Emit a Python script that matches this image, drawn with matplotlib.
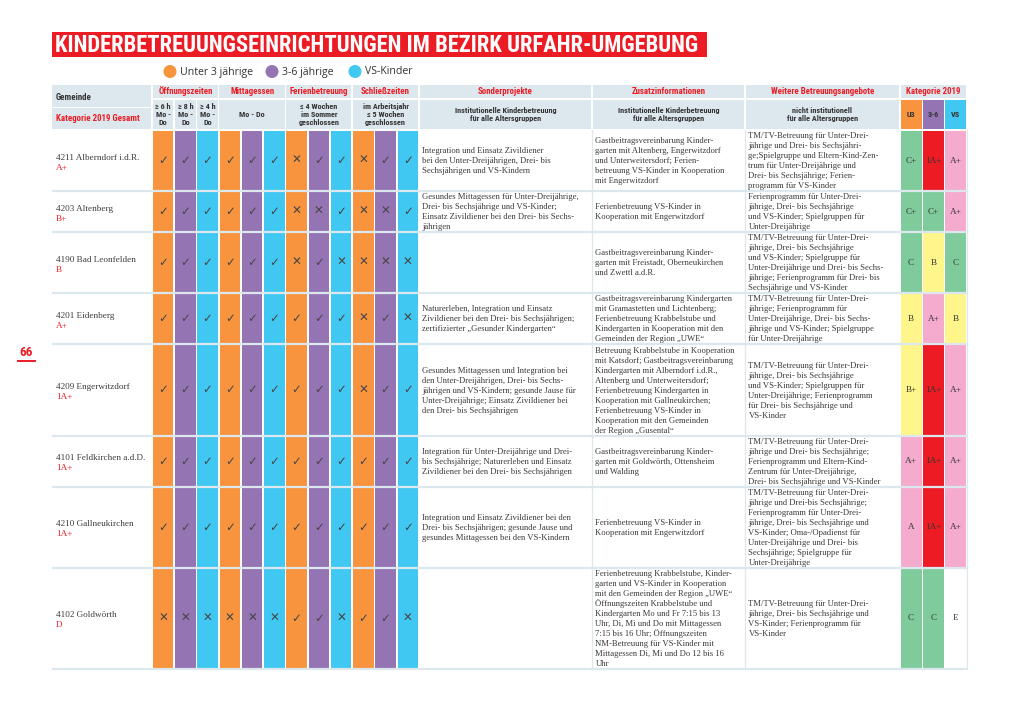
import matplotlib
matplotlib.use('Agg')
import matplotlib.pyplot as plt
from matplotlib.patches import Rectangle, Circle
from matplotlib import font_manager

# Daten
gemeinden = ['4211 Alberndorf i.d.R.', '4203 Altenberg', '4190 Bad Leonfelden', '4201 Eidenberg',
             '4209 Engerwitzdorf', '4101 Feldkirchen a.d.D.', '4210 Gallneukirchen', '4102 Goldwörth']
gesamt = ['A+', 'B+', 'B', 'A+', '1A+', '1A+', '1A+', 'D']

# je 12 Felder: Öffnungszeiten (3), Mittagessen (3), Ferienbetreuung (3), Schließzeiten (3); v = ja, x = nein
angebot = ['vvvvvvxvvxvv',
           'vvvvvvxxvxxv',
           'vvvvvvxvxxxx',
           'vvvvvvvvvxvx',
           'vvvvvvvvvxvv',
           'vvvvvvvvvvvv',
           'vvvvvvvvvvvv',
           'xxxxxxvvxvvx']

kat_u3 = ['C+', 'C+', 'C', 'B', 'B+', 'A+', 'A', 'C']
kat_36 = ['1A+', 'C+', 'B', 'A+', '1A+', '1A+', '1A+', 'C']
kat_vs = ['A+', 'A+', 'C', 'B', 'A+', 'A+', 'A+', 'E']

sonderprojekte = [
    'Integration und Einsatz Zivildiener\nbei den Unter-Dreijährigen, Drei- bis\nSechsjährigen und VS-Kindern',
    'Gesundes Mittagessen für Unter-Dreijährige,\nDrei- bis Sechsjährige und VS-Kinder;\nEinsatz Zivildiener bei den Drei- bis Sechs-\njährigen',
    '',
    'Naturerleben, Integration und Einsatz\nZivildiener bei den Drei- bis Sechsjährigen;\nzertifizierter „Gesunder Kindergarten“',
    'Gesundes Mittagessen und Integration bei\nden Unter-Dreijährigen, Drei- bis Sechs-\njährigen und VS-Kindern; gesunde Jause für\nUnter-Dreijährige; Einsatz Zivildiener bei\nden Drei- bis Sechsjährigen',
    'Integration für Unter-Dreijährige und Drei-\nbis Sechsjährige; Naturerleben und Einsatz\nZivildiener bei den Drei- bis Sechsjährigen',
    'Integration und Einsatz Zivildiener bei den\nDrei- bis Sechsjährigen; gesunde Jause und\ngesundes Mittagessen bei den VS-Kindern',
    '',
]

zusatz = [
    'Gastbeitragsvereinbarung Kinder-\ngarten mit Altenberg, Engerwitzdorf\nund Unterweitersdorf; Ferien-\nbetreuung VS-Kinder in Kooperation\nmit Engerwitzdorf',
    'Ferienbetreuung VS-Kinder in\nKooperation mit Engerwitzdorf',
    'Gastbeitragsvereinbarung Kinder-\ngarten mit Freistadt, Oberneukirchen\nund Zwettl a.d.R.',
    'Gastbeitragsvereinbarung Kindergarten\nmit Gramastetten und Lichtenberg;\nFerienbetreuung Krabbelstube und\nKindergarten in Kooperation mit den\nGemeinden der Region „UWE“',
    'Betreuung Krabbelstube in Kooperation\nmit Katsdorf; Gastbeitragsvereinbarung\nKindergarten mit Alberndorf i.d.R.,\nAltenberg und Unterweitersdorf;\nFerienbetreuung Kindergarten in\nKooperation mit Gallneukirchen;\nFerienbetreuung VS-Kinder in\nKooperation mit den Gemeinden\nder Region „Gusental“',
    'Gastbeitragsvereinbarung Kinder-\ngarten mit Goldwörth, Ottensheim\nund Walding',
    'Ferienbetreuung VS-Kinder in\nKooperation mit Engerwitzdorf',
    'Ferienbetreuung Krabbelstube, Kinder-\ngarten und VS-Kinder in Kooperation\nmit den Gemeinden der Region „UWE“\nÖffnungszeiten Krabbelstube und\nKindergarten Mo und Fr 7:15 bis 13\nUhr, Di, Mi und Do mit Mittagessen\n7:15 bis 16 Uhr; Öffnungszeiten\nNM-Betreuung für VS-Kinder mit\nMittagessen Di, Mi und Do 12 bis 16\nUhr',
]

weitere = [
    'TM/TV-Betreuung für Unter-Drei-\njährige und Drei- bis Sechsjähri-\nge;Spielgruppe und Eltern-Kind-Zen-\ntrum für Unter-Dreijährige und\nDrei- bis Sechsjährige; Ferien-\nprogramm für VS-Kinder',
    'Ferienprogramm für Unter-Drei-\njährige, Drei- bis Sechsjährige\nund VS-Kinder; Spielgruppen für\nUnter-Dreijährige',
    'TM/TV-Betreuung für Unter-Drei-\njährige, Drei- bis Sechsjährige\nund VS-Kinder; Spielgruppe für\nUnter-Dreijährige und Drei- bis Sechs-\njährige; Ferienprogramm für Drei- bis\nSechsjährige und VS-Kinder',
    'TM/TV-Betreuung für Unter-Drei-\njährige; Ferienprogramm für\nUnter-Dreijährige, Drei- bis Sechs-\njährige und VS-Kinder; Spielgruppe\nfür Unter-Dreijährige',
    'TM/TV-Betreuung für Unter-Drei-\njährige, Drei- bis Sechsjährige\nund VS-Kinder; Spielgruppen für\nUnter-Dreijährige; Ferienprogramm\nfür Drei- bis Sechsjährige und\nVS-Kinder',
    'TM/TV-Betreuung für Unter-Drei-\njährige und Drei- bis Sechsjährige;\nFerienprogramm und Eltern-Kind-\nZentrum für Unter-Dreijährige,\nDrei- bis Sechsjährige und VS-Kinder',
    'TM/TV-Betreuung für Unter-Drei-\njährige und Drei-bis Sechsjährige;\nFerienprogramm für Unter-Drei-\njährige, Drei- bis Sechsjährige und\nVS-Kinder; Oma-/Opadienst für\nUnter-Dreijährige und Drei- bis\nSechsjährige; Spielgruppe für\nUnter-Dreijährige',
    'TM/TV-Betreuung für Unter-Drei-\njährige, Drei- bis Sechsjährige und\nVS-Kinder; Ferienprogramm für\nVS-Kinder',
]

titel = 'KINDERBETREUUNGSEINRICHTUNGEN IM BEZIRK URFAHR-UMGEBUNG'
gruppen = ['Unter 3 jährige', '3-6 jährige', 'VS-Kinder']
gruppen_kurz = ['U3', '3-6', 'VS']
kopf_gruppen = ['Öffnungszeiten', 'Mittagessen', 'Ferienbetreuung', 'Schließzeiten']
kopf_oeffnung = ['≥ 6 h\nMo -\nDo', '≥ 8 h\nMo -\nDo', '≥ 4 h\nMo -\nDo']
kopf_unter = ['Mo - Do', '≤ 4 Wochen\nim Sommer\ngeschlossen', 'im Arbeitsjahr\n≤ 5 Wochen\ngeschlossen']
kopf_text = ['Sonderprojekte', 'Zusatzinformationen', 'Weitere Betreuungsangebote']
kopf_text_unter = ['Institutionelle Kinderbetreuung\nfür alle Altersgruppen',
                   'Institutionelle Kinderbetreuung\nfür alle Altersgruppen',
                   'nicht institutionell\nfür alle Altersgruppen']
seite = '66'

# Farben
ORANGE = '#f7943d'
PURPLE = '#9574b3'
BLUE = '#40c8f3'
RED = '#ec1c24'
HEAD_BG = '#dde7ee'
TXT = '#3a3a3a'
gruppen_farben = [ORANGE, PURPLE, BLUE]
note_farben = {'1A+': '#ed1c24', 'A+': '#f5abcd', 'A': '#f5abcd', 'B+': '#fef58b', 'B': '#fef58b',
               'C+': '#80cb9c', 'C': '#80cb9c', 'E': 'white'}

installed = {f.name for f in font_manager.fontManager.ttflist}
COND = 'DejaVu Sans'
for cand in ['Liberation Sans Narrow', 'Roboto Condensed', 'Open Sans Condensed']:
    if cand in installed:
        COND = cand
        break
narrow = COND != 'DejaVu Sans'
HEAD_FS = 6.4 if narrow else 5.0
SUB_FS = 5.9 if narrow else 4.7
SERIF = ['Liberation Serif', 'DejaVu Serif']

plt.rcParams['font.family'] = ['Liberation Serif', 'DejaVu Sans']

fig = plt.figure(figsize=(10.2, 7.21), dpi=100)
ax = fig.add_axes([0, 0, 1, 1])
ax.set_xlim(0, 1020)
ax.set_ylim(721, 0)
ax.axis('off')

# Layout
X_LEFT, X_RIGHT = 52, 967
X_GRID = 152
CELL_W = (419 - 152) / 12
X_SONDER, X_ZUSATZ, X_WEITERE, X_KAT = 419, 592, 745, 900
KAT_W = (X_RIGHT - X_KAT) / 3
H1_TOP, H1_BOT = 85, 98
H2_TOP, H2_BOT = 100, 129
BODY_TOP = 130
LINE = 10.0


def rect(x0, y0, x1, y1, color, gap=0.75):
    ax.add_patch(Rectangle((x0 + gap, y0), x1 - x0 - 2 * gap, y1 - y0, color=color, lw=0))


def lines(x, cy, text, step=LINE, base=2.6, **kw):
    rows = text.split('\n')
    y0 = cy - (len(rows) - 1) * step / 2
    for i, r in enumerate(rows):
        ax.text(x, y0 + i * step + base, r, va='baseline', **kw)


# Titel
ax.add_patch(Rectangle((52, 32), 655, 25, color=RED, lw=0))
t = ax.text(55, 45, titel, color='white', fontsize=15, fontweight='bold', family=COND,
            va='center', ha='left')
fig.canvas.draw()
bb = t.get_window_extent()
t.set_fontsize(15 * 648 / bb.width)

# Legende
for x, lab, col in zip([170, 272, 355], gruppen, gruppen_farben):
    ax.add_patch(Circle((x, 71.5), 6.5, color=col, lw=0))
    ax.text(x + 10.5, 72, lab, fontsize=7.6, family='Open Sans', color='#333333', va='center')

# Kopfzeile 1
rect(X_LEFT, H1_TOP, X_GRID - 1, 106.5, HEAD_BG, 0)
ax.text(56, 97, 'Gemeinde', fontsize=HEAD_FS, fontweight='bold', family=COND, color='#333333', va='center')
rect(X_LEFT, 108, X_GRID - 1, H2_BOT, HEAD_BG, 0)
ax.text(56, 118.5, 'Kategorie 2019 Gesamt', fontsize=HEAD_FS, fontweight='bold', family=COND, color=RED,
        va='center')

for g, lab in enumerate(kopf_gruppen):
    x0 = X_GRID + 3 * g * CELL_W
    x1 = x0 + 3 * CELL_W
    rect(x0, H1_TOP, x1, H1_BOT, HEAD_BG)
    ax.text((x0 + x1) / 2, 91.5, lab, fontsize=HEAD_FS, fontweight='bold', family=COND, color=RED,
            ha='center', va='center')
    if g == 0:
        for k, sub in enumerate(kopf_oeffnung):
            sx = x0 + k * CELL_W
            rect(sx, H2_TOP, sx + CELL_W, H2_BOT, HEAD_BG)
            lines(sx + CELL_W / 2, 114.8, sub, step=8.4, base=2.2, fontsize=SUB_FS, fontweight='bold',
                  family=COND, color='#333333', ha='center')
    else:
        rect(x0, H2_TOP, x1, H2_BOT, HEAD_BG)
        lines((x0 + x1) / 2, 114.8, kopf_unter[g - 1], step=8.4, base=2.2, fontsize=SUB_FS,
              fontweight='bold', family=COND, color='#333333', ha='center')

text_cols = [(X_SONDER, X_ZUSATZ), (X_ZUSATZ, X_WEITERE), (X_WEITERE, X_KAT)]
for (x0, x1), lab, sub in zip(text_cols, kopf_text, kopf_text_unter):
    rect(x0, H1_TOP, x1, H1_BOT, HEAD_BG)
    ax.text((x0 + x1) / 2, 91.5, lab, fontsize=HEAD_FS, fontweight='bold', family=COND, color=RED,
            ha='center', va='center')
    rect(x0, H2_TOP, x1, H2_BOT, HEAD_BG)
    lines((x0 + x1) / 2, 114.8, sub, step=8.4, base=2.2, fontsize=SUB_FS, fontweight='bold',
          family=COND, color='#333333', ha='center')

rect(X_KAT, H1_TOP, X_RIGHT, H1_BOT, HEAD_BG)
ax.text((X_KAT + X_RIGHT) / 2, 91.5, 'Kategorie 2019', fontsize=HEAD_FS, fontweight='bold', family=COND,
        color=RED, ha='center', va='center')
for k, (lab, col) in enumerate(zip(gruppen_kurz, gruppen_farben)):
    x0 = X_KAT + k * KAT_W
    rect(x0, H2_TOP, x0 + KAT_W, H2_BOT, col)
    ax.text(x0 + KAT_W / 2, 114.8, lab, fontsize=SUB_FS, fontweight='bold', family=COND,
            color='#333333', ha='center', va='center')

# Tabellenkörper
y = BODY_TOP
for i in range(len(gemeinden)):
    n = max(len(s.split('\n')) for s in (sonderprojekte[i], zusatz[i], weitere[i]))
    h = LINE * n + 1.1
    cy = y + h / 2

    ax.text(56, cy - 3.5 + 2.5, gemeinden[i], fontsize=6.6, family=SERIF, color=TXT, va='baseline')
    ax.text(56, cy + 6.5 + 2.5, gesamt[i], fontsize=6.6, family=SERIF, color=RED, va='baseline')

    for k, val in enumerate(angebot[i]):
        x0 = X_GRID + k * CELL_W
        ax.add_patch(Rectangle((x0 + 0.8, y + 0.9), CELL_W - 1.6, h - 1.8, color=gruppen_farben[k % 3], lw=0))
        ax.text(x0 + CELL_W / 2, cy, '✓' if val == 'v' else '✕', fontsize=8.5, family='DejaVu Sans',
                color='#454545', ha='center', va='center')

    for (x0, x1), txt in zip(text_cols, [sonderprojekte[i], zusatz[i], weitere[i]]):
        if txt:
            lines(x0 + 3.5, cy, txt, fontsize=6.2, family=SERIF, color=TXT, ha='left')

    for k, note in enumerate([kat_u3[i], kat_36[i], kat_vs[i]]):
        x0 = X_KAT + k * KAT_W
        ax.add_patch(Rectangle((x0 + 0.8, y + 0.9), KAT_W - 1.6, h - 1.8, color=note_farben[note], lw=0))
        ax.text(x0 + KAT_W / 2, cy, note, fontsize=6.6, family=SERIF, color='#333333',
                ha='center', va='center')

    ax.plot([X_LEFT, X_RIGHT], [y + h, y + h], color=HEAD_BG, lw=1.6, solid_capstyle='butt')
    y += h

# senkrechte Trennlinien
for x in [X_ZUSATZ, X_WEITERE, X_RIGHT + 0.5]:
    ax.plot([x, x], [BODY_TOP, y], color=HEAD_BG, lw=0.9)

# Seitenzahl
ax.text(26, 352, seite, fontsize=9.5, fontweight='bold', family=COND, color=RED, ha='center', va='center')
ax.plot([18, 35], [360.5, 360.5], color=RED, lw=1.4)

fig.savefig('out.png', dpi=100)
